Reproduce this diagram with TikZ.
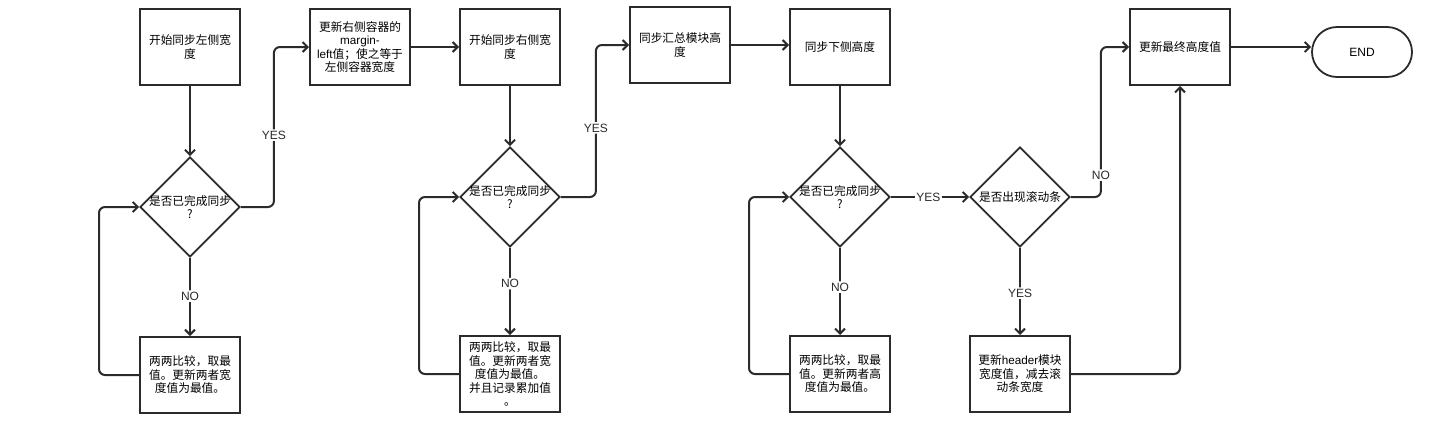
\documentclass[tikz,border=0pt]{standalone}
\usepackage{fontspec}
\setmainfont{Noto Sans CJK SC}
\newfontfamily\lat{Liberation Sans}
\usetikzlibrary{shapes.geometric,arrows.meta}
\definecolor{ln}{HTML}{2B2B2B}
\begin{document}
\begin{tikzpicture}[x=1pt,y=-1pt,
  every node/.style={font=\fontsize{11.7}{13.5}\selectfont, text=black},
  box/.style={draw=ln, line width=2pt, minimum width=100pt, minimum height=76pt, inner sep=0pt, align=center},
  dia/.style={draw=ln, line width=1.8pt, shape=diamond, minimum width=100pt, minimum height=100pt, inner sep=0pt},
  dtext/.style={align=center, inner sep=0pt},
  term/.style={draw=ln, line width=1.8pt, rounded corners=25pt, minimum width=100pt, minimum height=50pt, inner sep=0pt, font=\lat\fontsize{12}{14}\selectfont},
  conn/.style={draw=ln, line width=2pt, rounded corners=6pt, -{Straight Barb[length=5pt,width=10pt]}},
  lbl/.style={fill=white, inner sep=1.5pt, font=\lat\fontsize{12}{14}\selectfont, text=ln}
]
\path[use as bounding box] (0,0) rectangle (1432,432);

% column 1
\node[box] (b1) at (190,47) {开始同步左侧宽\\度};
\node[dia] (d1) at (190,207) {};
\node[dtext] (t1) at (d1.center) {是否已完成同步\\?};
\node[box] (b3) at (190,375) {两两比较，取最\\值。更新两者宽\\度值为最值。};

% column 2
\node[box] (b2) at (360,47) {更新右侧容器的\\{\lat margin-}\\{\lat left}值；使之等于\\左侧容器宽度};

% column 3
\node[box] (b4) at (510,47) {开始同步右侧宽\\度};
\node[dia] (d2) at (510,197) {};
\node[dtext] (t2) at (d2.center) {是否已完成同步\\?};
\node[box] (b5) at (510,374) {两两比较，取最\\值。更新两者宽\\度值为最值。\\并且记录累加值\\。};

% column 4
\node[box] (b6) at (680,45) {同步汇总模块高\\度};

% column 5
\node[box] (b7) at (840,47) {同步下侧高度};
\node[dia] (d3) at (840,197) {};
\node[dtext] (t3) at (d3.center) {是否已完成同步\\?};
\node[box] (b8) at (840,374) {两两比较，取最\\值。更新两者高\\度值为最值。};

% column 6
\node[dia] (d4) at (1020,197) {};
\node[dtext] (t4) at (d4.center) {是否出现滚动条};
\node[box] (b9) at (1020,374) {更新{\lat header}模块\\宽度值，减去滚\\动条宽度};

% column 7
\node[box] (b10) at (1180,47) {更新最终高度值};
\node[term] (end) at (1362,52) {END};

% connectors
\draw[conn] (b1) -- (d1);
\draw[conn] (d1) -- node[lbl, pos=0.49]{NO} (b3);
\draw[conn] (b3.west) -- ++(-40,0) |- (d1.west);
\draw[conn] (d1.east) -- ++(33,0) |- node[lbl, pos=0.225]{YES} (b2.west);
\draw[conn] (b2.east) -- (b2.east -| b4.west);
\draw[conn] (b4) -- (d2);
\draw[conn] (d2) -- node[lbl, pos=0.41]{NO} (b5);
\draw[conn] (b5.west) -- ++(-40,0) |- (d2.west);
\draw[conn] (d2.east) -- ++(35,0) |- node[lbl, pos=0.227]{YES} (b6.west);
\draw[conn] (b6.east) -- (b6.east -| b7.west);
\draw[conn] (b7) -- (d3);
\draw[conn] (d3) -- node[lbl, pos=0.45]{NO} (b8);
\draw[conn] (b8.west) -- ++(-40,0) |- (d3.west);
\draw[conn] (d3) -- node[lbl, pos=0.48]{YES} (d4);
\draw[conn] (d4) -- node[lbl, pos=0.52]{YES} (b9);
\draw[conn] (d4.east) -- ++(30,0) |- node[lbl, pos=0.073]{NO} (b10.west);
\draw[conn] (b9.east) -| (b10.south);
\draw[conn] (b10.east) -- (b10.east -| end.west);
\end{tikzpicture}
\end{document}
